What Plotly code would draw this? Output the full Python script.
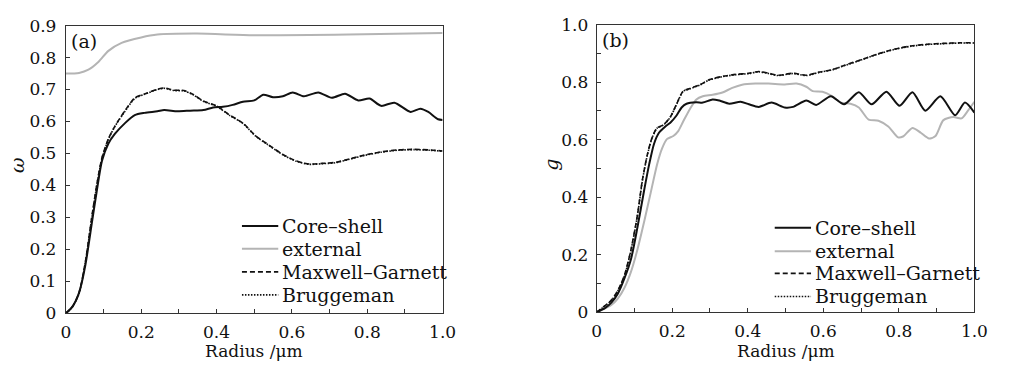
import plotly.graph_objects as go

# ---------------- panel (a): single scattering albedo ----------------
a_core_x = [0, 0.017, 0.035, 0.052, 0.07, 0.083, 0.096, 0.113, 0.13, 0.157, 0.183, 0.209,
            0.243, 0.261, 0.296, 0.33, 0.365, 0.391, 0.417, 0.443, 0.47, 0.5, 0.524, 0.55,
            0.576, 0.602, 0.632, 0.67, 0.706, 0.741, 0.776, 0.806, 0.837, 0.872, 0.915,
            0.941, 0.962, 0.988, 1.0]
a_core_y = [0, 0.02, 0.064, 0.152, 0.29, 0.389, 0.477, 0.531, 0.561, 0.595, 0.62, 0.627,
            0.632, 0.636, 0.632, 0.634, 0.636, 0.644, 0.646, 0.652, 0.662, 0.666, 0.684, 0.676,
            0.679, 0.691, 0.679, 0.691, 0.674, 0.687, 0.666, 0.672, 0.649, 0.659, 0.63,
            0.64, 0.63, 0.607, 0.605]

a_ext_x = [0, 0.035, 0.06, 0.087, 0.113, 0.148, 0.2, 0.243, 0.348, 0.5, 0.75, 1.0]
a_ext_y = [0.75, 0.752, 0.762, 0.787, 0.821, 0.846, 0.863, 0.872, 0.875, 0.870, 0.872, 0.877]

a_mg_x = [0, 0.017, 0.035, 0.052, 0.07, 0.083, 0.096, 0.113, 0.13, 0.157, 0.183, 0.209,
          0.243, 0.261, 0.287, 0.313, 0.339, 0.365, 0.4, 0.435, 0.47, 0.504, 0.533, 0.576,
          0.611, 0.646, 0.68, 0.715, 0.75, 0.793, 0.837, 0.88, 0.924, 0.967, 1.0]
a_mg_y = [0, 0.02, 0.064, 0.162, 0.31, 0.408, 0.487, 0.546, 0.585, 0.634, 0.674, 0.686,
          0.701, 0.705, 0.698, 0.697, 0.684, 0.664, 0.649, 0.62, 0.595, 0.555, 0.531, 0.497,
          0.477, 0.467, 0.469, 0.472, 0.482, 0.495, 0.505, 0.511, 0.513, 0.511, 0.508]

a_br_x = a_mg_x
a_br_y = [0, 0.019, 0.062, 0.160, 0.308, 0.406, 0.485, 0.544, 0.584, 0.632, 0.672, 0.685,
          0.700, 0.704, 0.697, 0.696, 0.683, 0.663, 0.648, 0.619, 0.594, 0.554, 0.530, 0.496,
          0.476, 0.466, 0.468, 0.471, 0.481, 0.494, 0.504, 0.510, 0.512, 0.510, 0.507]

# ---------------- panel (b): asymmetry parameter ----------------
b_core_x = [0, 0.022, 0.039, 0.056, 0.074, 0.091, 0.108, 0.126, 0.139, 0.152, 0.165, 0.182,
            0.195, 0.212, 0.225, 0.238, 0.264, 0.281, 0.307, 0.325, 0.351, 0.381, 0.403,
            0.429, 0.463, 0.498, 0.52, 0.555, 0.581, 0.62, 0.655, 0.694, 0.728, 0.767,
            0.802, 0.836, 0.87, 0.91, 0.949, 0.975, 1.0]
b_core_y = [0, 0.014, 0.033, 0.064, 0.119, 0.185, 0.295, 0.426, 0.514, 0.586, 0.624, 0.646,
            0.659, 0.685, 0.712, 0.725, 0.73, 0.729, 0.74, 0.736, 0.725, 0.732, 0.723,
            0.714, 0.729, 0.712, 0.714, 0.736, 0.721, 0.751, 0.723, 0.765, 0.723, 0.767,
            0.718, 0.765, 0.701, 0.751, 0.685, 0.729, 0.694]

b_ext_x = [0, 0.039, 0.056, 0.074, 0.091, 0.108, 0.126, 0.143, 0.16, 0.173, 0.186, 0.203,
           0.216, 0.229, 0.247, 0.264, 0.281, 0.307, 0.333, 0.359, 0.385, 0.42, 0.455,
           0.498, 0.529, 0.555, 0.572, 0.598, 0.624, 0.646, 0.672, 0.694, 0.72, 0.746,
           0.772, 0.798, 0.811, 0.836, 0.858, 0.88, 0.897, 0.918, 0.944, 0.966, 0.983, 1.0]
b_ext_y = [0, 0.025, 0.047, 0.086, 0.141, 0.218, 0.316, 0.415, 0.514, 0.569, 0.602, 0.613,
           0.63, 0.663, 0.707, 0.74, 0.751, 0.756, 0.764, 0.78, 0.791, 0.795, 0.795,
           0.792, 0.795, 0.784, 0.769, 0.767, 0.751, 0.729, 0.725, 0.712, 0.67, 0.666,
           0.646, 0.608, 0.611, 0.641, 0.624, 0.604, 0.613, 0.668, 0.679, 0.674, 0.701, 0.732]

b_mg_x = [0, 0.039, 0.056, 0.074, 0.091, 0.108, 0.121, 0.134, 0.147, 0.16, 0.177, 0.195,
          0.212, 0.229, 0.247, 0.273, 0.299, 0.333, 0.368, 0.403, 0.429, 0.455, 0.48,
          0.52, 0.555, 0.589, 0.624, 0.659, 0.702, 0.746, 0.789, 0.832, 0.876, 0.919,
          0.962, 1.0]
b_mg_y = [0, 0.042, 0.075, 0.13, 0.218, 0.338, 0.459, 0.547, 0.608, 0.641, 0.652, 0.679,
          0.725, 0.769, 0.778, 0.791, 0.809, 0.82, 0.827, 0.831, 0.837, 0.831, 0.824,
          0.831, 0.824, 0.835, 0.844, 0.86, 0.879, 0.899, 0.915, 0.926, 0.932, 0.935,
          0.937, 0.937]

b_br_x = b_mg_x
b_br_y = [0, 0.041, 0.074, 0.128, 0.216, 0.336, 0.457, 0.545, 0.607, 0.640, 0.651, 0.678,
          0.724, 0.768, 0.777, 0.790, 0.808, 0.819, 0.826, 0.830, 0.836, 0.830, 0.823,
          0.830, 0.823, 0.834, 0.843, 0.859, 0.878, 0.898, 0.914, 0.925, 0.931, 0.934,
          0.936, 0.936]

# ---------------- text ----------------
legend_names = ["Core\u2013shell", "external", "Maxwell\u2013Garnett", "Bruggeman"]
x_tick_vals = [0, 0.2, 0.4, 0.6, 0.8, 1.0]
x_tick_text = ["0", "0.2", "0.4", "0.6", "0.8", "1.0"]
a_tick_vals = [0, 0.1, 0.2, 0.3, 0.4, 0.5, 0.6, 0.7, 0.8, 0.9]
a_tick_text = ["0", "0.1", "0.2", "0.3", "0.4", "0.5", "0.6", "0.7", "0.8", "0.9"]
b_tick_vals = [0, 0.2, 0.4, 0.6, 0.8, 1.0]
b_tick_text = ["0", "0.2", "0.4", "0.6", "0.8", "1.0"]

FONT = "DejaVu Serif"
BLACK = "#111111"
GREY = "#b4b4b4"
W, H = 1009, 373

styles = [
    dict(color=BLACK, width=2, dash="solid"),
    dict(color=GREY, width=2, dash="solid"),
    dict(color=BLACK, width=1.6, dash="5px,3px"),
    dict(color=BLACK, width=1.6, dash="1.5px,1.5px"),
]

fig = go.Figure()

panel_a = [(a_core_x, a_core_y), (a_ext_x, a_ext_y), (a_mg_x, a_mg_y), (a_br_x, a_br_y)]
panel_b = [(b_core_x, b_core_y), (b_ext_x, b_ext_y), (b_mg_x, b_mg_y), (b_br_x, b_br_y)]

# draw order: grey underneath, then the effective-medium curves, core-shell on top
order = [1, 3, 2, 0]
for i in order:
    xs, ys = panel_a[i]
    fig.add_trace(go.Scatter(x=xs, y=ys, mode="lines", line=dict(**styles[i], shape="spline", smoothing=0.7),
                             xaxis="x", yaxis="y", showlegend=False, name=legend_names[i]))
for i in order:
    xs, ys = panel_b[i]
    fig.add_trace(go.Scatter(x=xs, y=ys, mode="lines", line=dict(**styles[i], shape="spline", smoothing=0.7),
                             xaxis="x2", yaxis="y2", showlegend=False, name=legend_names[i]))

# plot-area geometry (pixels)
ax_a = dict(x0=62, x1=446, ytop=16.5, ybot=320.5)
ax_b = dict(x0=603, x1=988, ytop=15.5, ybot=319.3)


def px_x(p):
    return p / W


def px_y(p):
    return (H - p) / H


axis_common = dict(
    showgrid=False, zeroline=False, showline=True, linecolor="#333333", linewidth=1,
    mirror=True, ticks="inside", ticklen=4, tickwidth=1, tickcolor="#333333",
    tickfont=dict(family=FONT, size=17, color=BLACK),
)
minor_ticks = dict(dtick=0.1, ticks="inside", ticklen=4, tickcolor="#333333")

fig.update_layout(
    width=W, height=H, margin=dict(l=0, r=0, t=0, b=0),
    paper_bgcolor="white", plot_bgcolor="white",
    xaxis=dict(axis_common, domain=[px_x(ax_a["x0"]), px_x(ax_a["x1"])], range=[0, 1.0],
               tickvals=x_tick_vals, ticktext=x_tick_text, anchor="y",
               ticklabelstandoff=3, minor=minor_ticks),
    yaxis=dict(axis_common, domain=[px_y(ax_a["ybot"]), px_y(ax_a["ytop"])], range=[0, 0.9],
               tickvals=a_tick_vals, ticktext=a_tick_text, anchor="x", ticklabelstandoff=5),
    xaxis2=dict(axis_common, domain=[px_x(ax_b["x0"]), px_x(ax_b["x1"])], range=[0, 1.0],
                tickvals=x_tick_vals, ticktext=x_tick_text, anchor="y2",
                ticklabelstandoff=3, minor=minor_ticks),
    yaxis2=dict(axis_common, domain=[px_y(ax_b["ybot"]), px_y(ax_b["ytop"])], range=[0, 1.0],
                tickvals=b_tick_vals, ticktext=b_tick_text, anchor="x2", ticklabelstandoff=4,
                minor=minor_ticks),
)

ann = []
shapes = []
text_font = dict(family=FONT, size=19, color=BLACK)

for ax, tag, ytitle, ytitle_x, legend_rows, line_x0, line_x1 in [
    (ax_a, "(a)", "\u03c9", 12, [228.3, 252.3, 276.7, 301.0], 241.5, 278.5),
    (ax_b, "(b)", "g", 557, [230.0, 255.0, 278.3, 302.7], 784.5, 821.5),
]:
    # panel tag
    ann.append(dict(x=px_x(ax["x0"] + 3), y=px_y(ax["ytop"] + 2), xref="paper", yref="paper",
                    text=tag, showarrow=False, xanchor="left", yanchor="top", font=text_font))
    # axis titles
    ann.append(dict(x=px_x((ax["x0"] + ax["x1"]) / 2), y=px_y(373), xref="paper", yref="paper",
                    text="Radius /\u03bcm", showarrow=False, xanchor="center", yanchor="bottom",
                    font=dict(family=FONT, size=17, color=BLACK)))
    ann.append(dict(x=px_x(ytitle_x), y=px_y(164), xref="paper", yref="paper",
                    text="<i>" + ytitle + "</i>", showarrow=False, textangle=-90,
                    xanchor="center", yanchor="middle", font=dict(family=FONT, size=19, color=BLACK)))
    # legend
    for k, yrow in enumerate(legend_rows):
        st = styles[k]
        shapes.append(dict(type="line", xref="paper", yref="paper",
                           x0=px_x(line_x0), x1=px_x(line_x1), y0=px_y(yrow), y1=px_y(yrow),
                           line=dict(color=st["color"], width=st["width"], dash=st["dash"])))
        ann.append(dict(x=px_x(line_x1 + 1.5), y=px_y(yrow), xref="paper", yref="paper",
                        text=legend_names[k], showarrow=False, xanchor="left", yanchor="middle",
                        font=text_font))

fig.update_layout(annotations=ann, shapes=shapes)

fig.write_html("out.html")
